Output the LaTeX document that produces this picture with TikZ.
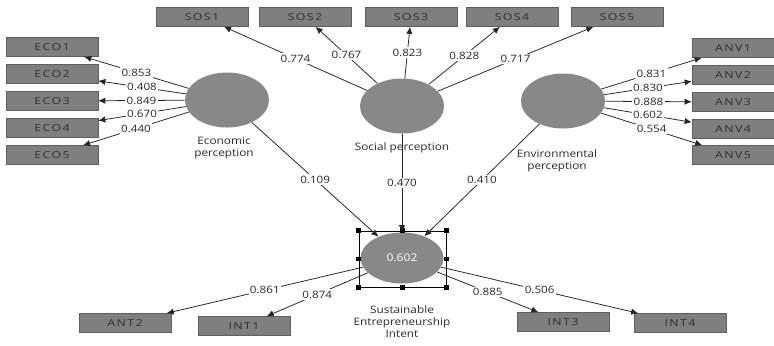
\documentclass[tikz,border=0pt]{standalone}
\usepackage{fontspec}
\setmainfont{Open Sans}[FakeStretch=1.15]
\newfontfamily\boxfont{Open Sans}[FakeStretch=1.3,LetterSpace=14]
\usepackage{tikz}
\usetikzlibrary{arrows.meta,positioning,shapes.geometric}
\definecolor{boxgray}{HTML}{7F7F7F}
\definecolor{boxedge}{HTML}{5E5E5E}
\definecolor{boxtext}{HTML}{2E2E2E}
\definecolor{lvgray}{HTML}{888888}
\definecolor{labtext}{HTML}{2A2A2A}

\begin{document}
\begin{tikzpicture}[x=0.025cm, y=-0.025cm, >={Latex[length=5pt,width=4.5pt]},
  indic/.style={draw=boxedge, fill=boxgray, minimum width=2.3cm, minimum height=0.475cm,
    inner sep=0pt, text=boxtext, font=\boxfont\fontsize{6.8}{7}\selectfont},
  latent/.style={ellipse, fill=lvgray, minimum width=2.1cm, minimum height=1.375cm, inner sep=0pt},
  link/.style={->, line width=0.55pt, draw=black!85},
  coef/.style={fill=white, inner sep=1pt, text=labtext, font=\fontsize{7.2}{8}\selectfont},
  capt/.style={align=center, text=labtext, font=\fontsize{7.3}{8.6}\selectfont},
  handle/.style={fill=black, minimum size=0.11cm, inner sep=0pt}]
  \useasboundingbox (0,0) rectangle (774,345);

  % Latent variables
  \node[latent] (econ) at (227,100) {};
  \node[latent] (soc) at (402,106) {};
  \node[latent] (env) at (563,101) {};
  \node[latent, minimum width=2.075cm, minimum height=1.275cm, text=white,
    font=\fontsize{7.5}{9}\selectfont] (sei) at (402,258) {0.602};

  % Selection frame round the target construct
  \node[draw, line width=0.5pt, minimum width=2.175cm, minimum height=1.4cm, inner sep=0pt]
    (sel) at (402.5,259) {};
  \foreach \a in {north west,north,north east,east,south east,south,south west,west}
    \node[handle] at (sel.\a) {};

  % --- Indicators ---
  \foreach \i/\y in {1/47,2/74,3/101,4/128,5/155}
    \node[indic] (eco\i) at (52,\y) {ECO\i};
  \foreach \i/\x in {1/202,2/305,3/411,4/512,5/617}
    \node[indic] (sos\i) at (\x,17) {SOS\i};
  \foreach \i/\y in {1/48,2/75,3/102,4/129,5/155}
    \node[indic, minimum width=2.05cm] (anv\i) at (733,\y) {ANV\i};
  \node[indic] (ant2) at (125,323) {ANT2};
  \node[indic] (int1) at (244,326) {INT1};
  \node[indic] (int3) at (563,322) {INT3};
  \node[indic] (int4) at (680,323) {INT4};

  % --- Outer loadings ---
  \foreach \i/\v in {1/0.853,2/0.408,3/0.849,4/0.670,5/0.440}
    \draw[link] (econ) -- node[coef] {\v} (eco\i);
  \foreach \i/\v in {1/0.774,2/0.767,3/0.823,4/0.828,5/0.717}
    \draw[link] (soc) -- node[coef] {\v} (sos\i);
  \foreach \i/\v in {1/0.831,2/0.830,3/0.888,4/0.602,5/0.554}
    \draw[link] (env) -- node[coef] {\v} (anv\i);
  \foreach \n/\v in {ant2/0.861,int1/0.874,int3/0.885,int4/0.506}
    \draw[link] (sei) -- node[coef] {\v} (\n);

  % --- Path coefficients ---
  \draw[link] (econ) -- node[coef] {0.109} (sei);
  \draw[link] (soc) -- node[coef] {0.470} (sei);
  \draw[link] (env) -- node[coef] {0.410} (sei);

  % --- Construct names ---
  \node[capt] at (224,148) {Economic\\perception};
  \node[capt] at (402,148) {Social perception};
  \node[capt] at (557,161) {Environmental\\perception};
  \node[capt] at (402,322) {Sustainable\\Entrepreneurship\\Intent};
\end{tikzpicture}
\end{document}
